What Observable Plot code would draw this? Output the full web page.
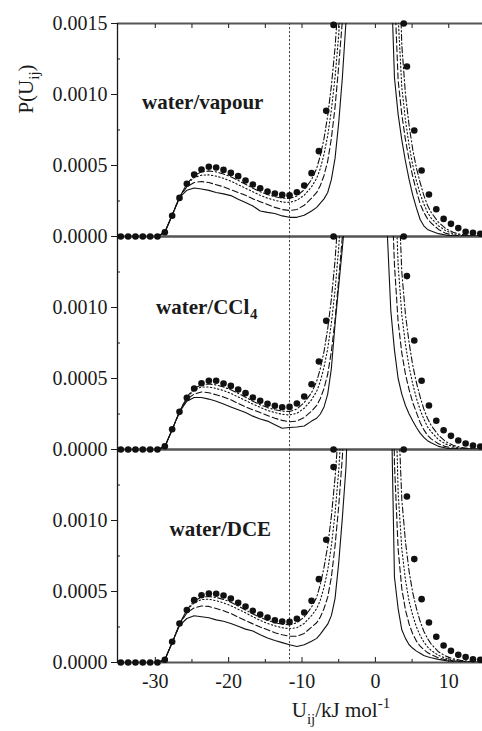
<!DOCTYPE html>
<html><head><meta charset="utf-8">
<script src="https://cdn.jsdelivr.net/npm/d3@7"></script>
<script src="https://cdn.jsdelivr.net/npm/@observablehq/plot@0.6"></script>
<style>body{margin:0;background:#fff}#chart svg{display:block}</style>
</head><body><div id="chart"></div>
<script>
// ---- panels ----
const panels = ["vapour", "CCl4", "DCE"];

// ---- axis ticks ----
const xMajorTicks = [-30, -20, -10, 0, 10];
const xMinorTicks = [-25, -15, -5, 5];
const xTopTicks = [-30, -25, -20, -15, -10, -5, 0, 5, 10];
const yMajorTicks = [0, 0.0005, 0.001];
const yTopOnlyTicks = [0.0015];
const yMinorTicks = [0.00025, 0.00075, 0.00125];
const refLineX = [-11.7];

// ---- filled circles (simulation), values in units of 1e-3 ----
const dotX = [-34.7,-33.7,-32.7,-31.7,-30.7,-29.7,-28.7,-27.7,-26.7,-25.7,-24.7,-23.7,-22.7,-21.7,-20.7,-19.7,-18.7,-17.7,-16.7,-15.7,-14.7,-13.7,-12.7,-11.7,-10.7,-9.7,-8.7,-7.7,-6.7,-5.7,
  4.3,5.3,6.3,7.3,8.3,9.3,10.3,11.3,12.3,13.3,14.3];
const vapourDots = [0,0,0,0,0,0,0.03,0.146,0.272,0.371,0.437,0.472,0.491,0.486,0.469,0.448,0.425,0.394,0.366,0.340,0.317,0.303,0.293,0.291,0.312,0.359,0.446,0.601,0.885,1.49,
  1.197,0.746,0.465,0.296,0.192,0.124,0.089,0.059,0.033,0.026,0.019];
const ccl4Dots = [0,0,0,0,0,0,0.023,0.143,0.265,0.364,0.430,0.467,0.484,0.484,0.465,0.448,0.423,0.397,0.366,0.343,0.322,0.308,0.298,0.300,0.324,0.373,0.460,0.620,0.906,null,
  1.221,0.768,0.484,0.310,0.202,0.136,0.096,0.063,0.042,0.028,0.021];
const dceDots = [0,0,0,0,0,0,0.019,0.146,0.275,0.369,0.439,0.474,0.486,0.484,0.472,0.451,0.420,0.394,0.364,0.338,0.317,0.298,0.289,0.286,0.308,0.352,0.434,0.587,0.864,1.376,
  1.169,0.728,0.446,0.282,0.181,0.120,0.082,0.054,0.038,0.023,0.019];
// off-scale points drawn on the upper border
const vapourOffX = [3.86];
const ccl4OffX = [-5.7, 3.86];
const dceOffX = [-5.7, 3.86];
const offScaleY = 1.5;

// ---- curves, values in units of 1e-3 ----
const lineX = [-34.7,-33.7,-32.7,-31.7,-30.7,-29.7,-28.7,-27.7,-26.7,-25.7,-24.7,-23.7,-22.7,-21.7,-20.7,-19.7,-18.7,-17.7,-16.7,-15.7,-14.7,-13.7,-12.7,-11.7,-10.7,-9.7,-8.7,
  -8.0,-7.5,-7.0,-6.5,-6.0,-5.5,-5.0,-4.5,-4.0,-3.5,
  1.6,2.1,2.6,3.1,3.6,4.1,4.6,5.1,5.6,6.1,6.6,7.1,7.6,8.6,9.6,10.6,11.6,12.6,13.6,14.6];

const vapourSolid = [0,0,0,0,0,0,0.03,0.15,0.275,0.325,0.342,0.335,0.325,0.31,0.30,0.288,0.262,0.24,0.215,0.18,0.17,0.162,0.145,0.135,0.135,0.15,0.18,
  0.205,0.235,0.265,0.31,0.40,0.55,0.80,1.12,1.52,2.2,
  3.0,1.9,1.12,0.86,0.68,0.53,0.40,0.29,0.20,0.12,0.075,0.05,0.038,0.02,0.01,0.005,0.002,0.001,0,0];
const vapourDashed = [0,0,0,0,0,0,0.03,0.15,0.275,0.35,0.38,0.387,0.38,0.365,0.35,0.33,0.31,0.29,0.265,0.245,0.225,0.205,0.19,0.183,0.19,0.22,0.27,
  0.31,0.36,0.43,0.53,0.69,0.91,1.2,1.52,2.0,3.0,
  3.0,3.0,1.75,1.1,0.86,0.68,0.54,0.42,0.32,0.23,0.17,0.125,0.095,0.05,0.022,0.01,0.005,0.002,0.001,0];
const vapourDotted = [0,0,0,0,0,0,0.03,0.15,0.275,0.37,0.415,0.432,0.434,0.425,0.41,0.39,0.365,0.34,0.315,0.29,0.27,0.255,0.243,0.24,0.255,0.29,0.35,
  0.41,0.48,0.58,0.71,0.89,1.12,1.42,1.85,3.0,3.0,
  3.0,3.0,2.6,1.55,1.05,0.82,0.64,0.50,0.39,0.30,0.23,0.17,0.13,0.075,0.04,0.02,0.01,0.005,0.002,0.001];
const vapourDashdot = [0,0,0,0,0,0,0.03,0.15,0.275,0.37,0.43,0.455,0.462,0.455,0.44,0.42,0.395,0.368,0.34,0.315,0.295,0.28,0.27,0.268,0.285,0.33,0.40,
  0.48,0.57,0.69,0.85,1.06,1.33,1.7,2.4,3.0,3.0,
  3.0,3.0,3.0,2.2,1.35,1.0,0.78,0.61,0.48,0.38,0.29,0.22,0.17,0.10,0.055,0.03,0.015,0.008,0.004,0.002];

const ccl4Solid = [0,0,0,0,0,0,0.02,0.14,0.265,0.34,0.366,0.366,0.355,0.34,0.32,0.30,0.28,0.26,0.235,0.215,0.20,0.175,0.15,0.155,0.158,0.165,0.2,
  0.22,0.25,0.30,0.39,0.57,0.88,1.15,1.42,1.7,2.5,
  1.55,0.98,0.70,0.50,0.39,0.31,0.25,0.2,0.155,0.115,0.085,0.062,0.048,0.022,0.01,0.005,0.002,0.001,0,0];
const ccl4Dashed = [0,0,0,0,0,0,0.02,0.14,0.265,0.355,0.39,0.405,0.40,0.385,0.37,0.35,0.325,0.30,0.28,0.26,0.24,0.22,0.205,0.195,0.2,0.225,0.27,
  0.31,0.36,0.43,0.53,0.69,0.91,1.2,1.5,2.0,3.0,
  3.0,2.0,1.3,0.9,0.68,0.53,0.42,0.33,0.26,0.19,0.14,0.1,0.075,0.04,0.02,0.01,0.005,0.002,0.001,0];
const ccl4Dotted = [0,0,0,0,0,0,0.02,0.14,0.265,0.365,0.42,0.44,0.44,0.43,0.415,0.395,0.37,0.345,0.32,0.297,0.275,0.26,0.248,0.243,0.255,0.29,0.35,
  0.41,0.48,0.58,0.71,0.89,1.12,1.42,1.85,3.0,3.0,
  3.0,3.0,2.0,1.3,0.95,0.74,0.58,0.46,0.36,0.28,0.215,0.16,0.125,0.07,0.038,0.02,0.01,0.005,0.002,0.001];
const ccl4Dashdot = [0,0,0,0,0,0,0.02,0.14,0.265,0.37,0.43,0.455,0.462,0.455,0.44,0.42,0.395,0.368,0.34,0.315,0.295,0.28,0.27,0.268,0.285,0.33,0.40,
  0.48,0.57,0.69,0.85,1.06,1.33,1.7,2.4,3.0,3.0,
  3.0,3.0,3.0,1.9,1.25,0.95,0.75,0.59,0.47,0.37,0.285,0.22,0.17,0.10,0.055,0.03,0.015,0.008,0.004,0.002];

const dceSolid = [0,0,0,0,0,0,0.02,0.14,0.26,0.31,0.329,0.322,0.315,0.30,0.29,0.275,0.255,0.235,0.222,0.195,0.172,0.155,0.14,0.125,0.113,0.125,0.15,
  0.17,0.2,0.235,0.27,0.33,0.45,0.70,1.02,1.38,2.2,
  3.0,2.0,0.6,0.38,0.23,0.17,0.125,0.1,0.08,0.065,0.05,0.04,0.033,0.022,0.013,0.007,0.004,0.002,0.001,0];
const dceDashed = [0,0,0,0,0,0,0.02,0.14,0.265,0.35,0.385,0.398,0.395,0.38,0.365,0.345,0.32,0.295,0.272,0.25,0.23,0.21,0.195,0.185,0.185,0.205,0.25,
  0.28,0.32,0.38,0.46,0.6,0.82,1.1,1.45,1.9,3.0,
  3.0,3.0,1.4,0.8,0.52,0.37,0.27,0.2,0.15,0.115,0.09,0.07,0.055,0.033,0.02,0.012,0.007,0.004,0.002,0.001];
const dceDotted = [0,0,0,0,0,0,0.02,0.14,0.27,0.37,0.42,0.443,0.446,0.435,0.42,0.4,0.375,0.35,0.322,0.297,0.275,0.258,0.245,0.238,0.245,0.275,0.33,
  0.38,0.44,0.53,0.65,0.82,1.05,1.35,1.75,3.0,3.0,
  3.0,3.0,2.2,1.2,0.8,0.58,0.43,0.33,0.25,0.19,0.145,0.11,0.085,0.05,0.03,0.018,0.01,0.006,0.003,0.002];
const dceDashdot = [0,0,0,0,0,0,0.02,0.14,0.27,0.37,0.435,0.46,0.465,0.458,0.444,0.425,0.398,0.37,0.342,0.318,0.297,0.28,0.27,0.265,0.28,0.32,0.39,
  0.46,0.55,0.67,0.82,1.03,1.3,1.65,2.3,3.0,3.0,
  3.0,3.0,3.0,1.8,1.15,0.85,0.64,0.49,0.38,0.29,0.22,0.17,0.13,0.075,0.045,0.026,0.015,0.009,0.005,0.003];

// ---- panel titles ----
const titleText = ["water/vapour", "water/CCl", "water/DCE"];
const titleSub = ["", "4", ""];
const titleX = [-31.8, -29.9, -28.05];
const titleY = [0.898, 0.956, 0.894];

// ---- build tables ----
const scale = 1e-3;
const curveSets = {
  vapour: [vapourSolid, vapourDashed, vapourDotted, vapourDashdot],
  CCl4: [ccl4Solid, ccl4Dashed, ccl4Dotted, ccl4Dashdot],
  DCE: [dceSolid, dceDashed, dceDotted, dceDashdot]
};
const styleKeys = ["solid", "dashed", "dotted", "dashdot"];
const dashes = {solid: null, dashed: "6,3", dotted: "1.3,2.4", dashdot: "6,2.5,1.3,2.5"};
const lineRows = [];
for (const p of panels) curveSets[p].forEach((arr, si) => arr.forEach((v, i) =>
  lineRows.push({panel: p, style: styleKeys[si], x: lineX[i], y: v * scale})));

const dotSets = {vapour: vapourDots, CCl4: ccl4Dots, DCE: dceDots};
const offSets = {vapour: vapourOffX, CCl4: ccl4OffX, DCE: dceOffX};
const dotRows = [];
for (const p of panels) {
  dotSets[p].forEach((v, i) => { if (v != null) dotRows.push({panel: p, x: dotX[i], y: v * scale}); });
  offSets[p].forEach(x => dotRows.push({panel: p, x, y: offScaleY * scale}));
}
const titleRows = panels.map((p, i) => ({panel: p, x: titleX[i], y: titleY[i] * scale, text: titleText[i], sub: titleSub[i]}));

const xDomain = [-35.15, 14.6];
const font = "Liberation Serif, 'Times New Roman', serif";
const fmtY = d3.format(".4f");

const chart = Plot.plot({
  width: 482, height: 731,
  marginLeft: 117, marginRight: 0, marginTop: 23, marginBottom: 69,
  style: {fontFamily: font, fontSize: "20px", background: "white", overflow: "visible", color: "#1a1a1a"},
  x: {domain: xDomain},
  y: {domain: [0, 0.0015]},
  fy: {domain: panels, padding: 0, axis: null, label: null},
  marks: [
    Plot.ruleY([0, 0.0015], {stroke: "#555", strokeWidth: 1.8}),
    Plot.ruleX([xDomain[0]], {stroke: "#1a1a1a", strokeWidth: 1.3}),
    Plot.ruleX(refLineX, {stroke: "#444", strokeWidth: 1, strokeDasharray: "2.2,1.8"}),
    Plot.axisY({ticks: yMajorTicks, anchor: "left", tickSize: 6, tickPadding: 4, tickFormat: fmtY, fontSize: 20, label: null}),
    Plot.axisY({ticks: yTopOnlyTicks, anchor: "left", facetAnchor: "top", tickSize: 6, tickPadding: 4, tickFormat: fmtY, fontSize: 20, label: null}),
    Plot.axisY({ticks: yMinorTicks, anchor: "left", tickSize: 3, dx: 3, tickFormat: () => "", label: null}),
    Plot.axisX({ticks: xMajorTicks, anchor: "bottom", tickSize: 5, dy: -5, tickFormat: () => "", label: null}),
    Plot.axisX({ticks: xMinorTicks, anchor: "bottom", tickSize: 3, dy: -3, tickFormat: () => "", label: null}),
    Plot.axisX({ticks: xMajorTicks, anchor: "bottom", tickSize: 0, tickPadding: 11, tickFormat: d => String(d), fontSize: 20, label: null}),
    Plot.axisX({ticks: xTopTicks, anchor: "top", tickSize: 4, dy: 4, tickFormat: () => "", label: null}),
    ...styleKeys.map(s => Plot.line(lineRows.filter(d => d.style === s), {
      x: "x", y: "y", fy: "panel", z: "panel", stroke: "#111", strokeWidth: 1.1,
      strokeDasharray: dashes[s], clip: true
    })),
    Plot.dot(dotRows, {x: "x", y: "y", fy: "panel", r: 3.3, fill: "#111", stroke: "none"}),
    Plot.text(titleRows, {x: "x", y: "y", fy: "panel", text: "text", textAnchor: "start", lineAnchor: "bottom", fontSize: 21, fontWeight: "bold", fill: "#1a1a1a"}),
    Plot.text(titleRows.filter(d => d.sub), {x: "x", y: "y", fy: "panel", text: "sub", textAnchor: "start", lineAnchor: "bottom", dx: 94, dy: 5, fontSize: 15, fontWeight: "bold", fill: "#1a1a1a"})
  ]
});

document.getElementById("chart").appendChild(chart);

// axis titles with sub/superscripts
const svg = d3.select(chart);
const yl = svg.append("text").attr("transform", "translate(33,89) rotate(-90)")
  .attr("font-family", font).attr("font-size", 21).attr("fill", "#1a1a1a");
yl.append("tspan").text("P(U");
yl.append("tspan").attr("font-size", 15).attr("dy", 6).text("ij");
yl.append("tspan").attr("dy", -6).text(")");

const xl = svg.append("text").attr("x", 341).attr("y", 717)
  .attr("font-family", font).attr("font-size", 21).attr("fill", "#1a1a1a");
xl.append("tspan").text("U");
xl.append("tspan").attr("font-size", 15).attr("dy", 7).text("ij");
xl.append("tspan").attr("dy", -7).text("/kJ mol");
xl.append("tspan").attr("font-size", 15).attr("dy", -9).text("-1");
</script>
</body></html>
